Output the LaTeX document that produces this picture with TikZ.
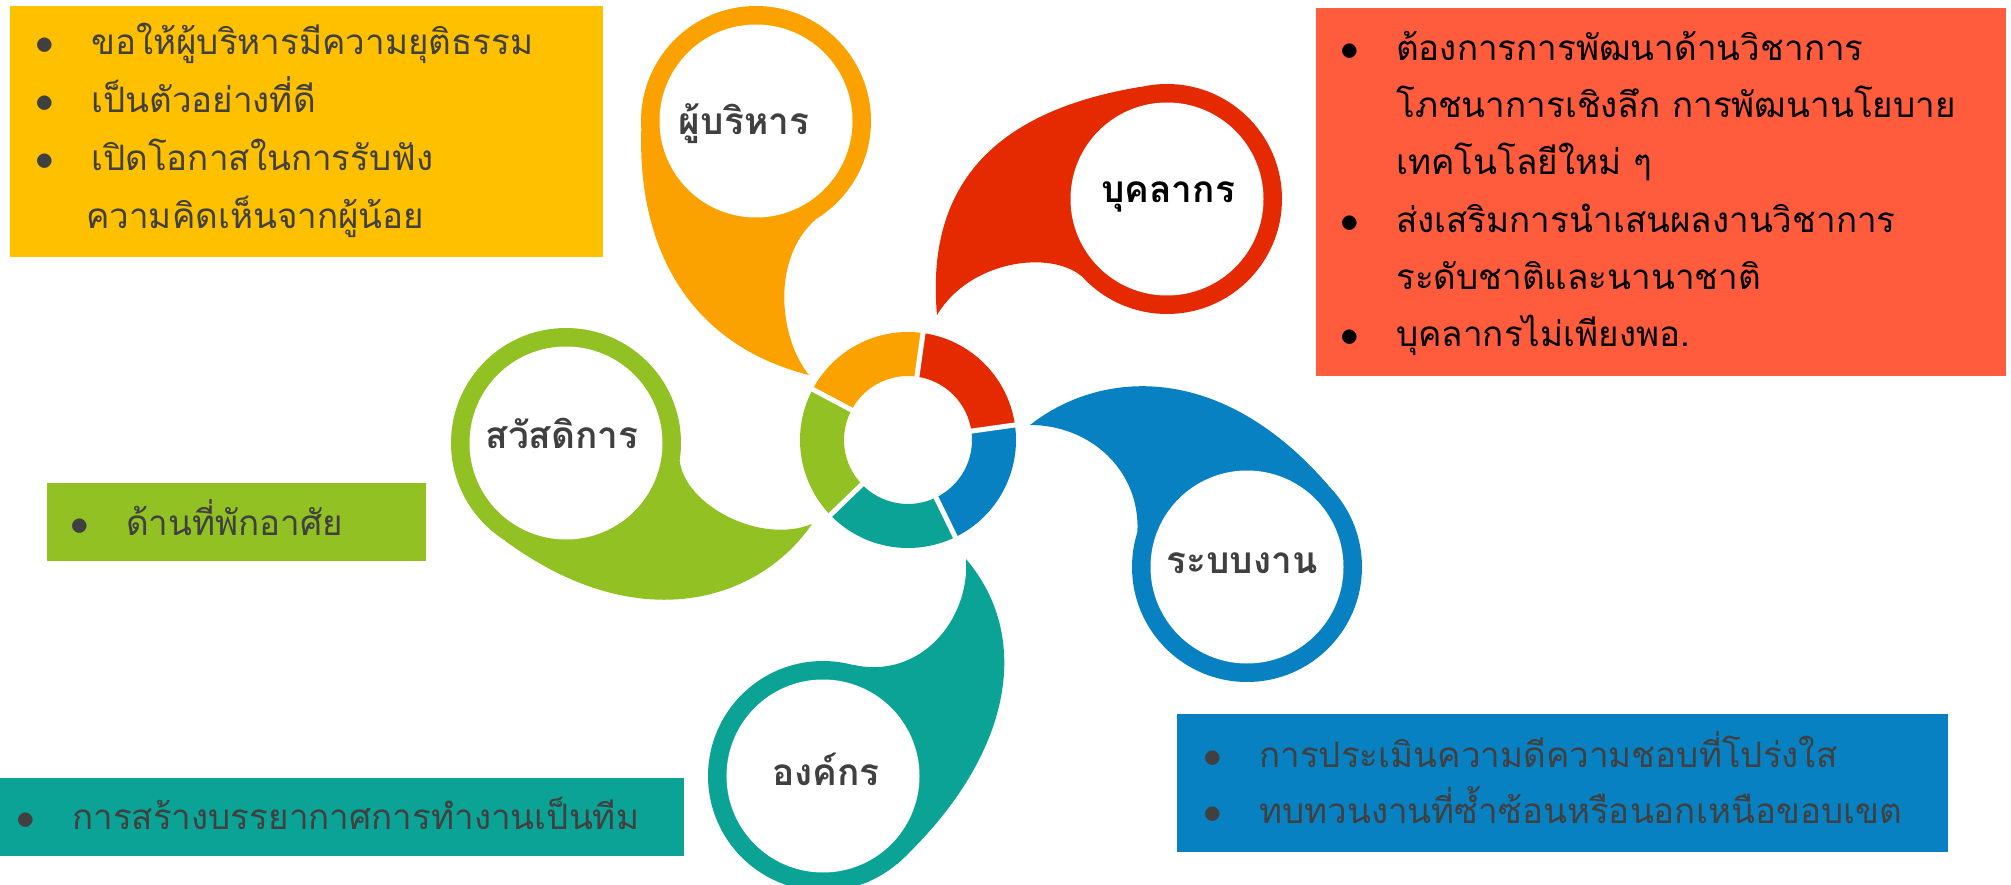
\documentclass[tikz,border=0pt]{standalone}
\usepackage{fontspec}
\newfontfamily\thaifont[Script=Thai]{Loma}
\usetikzlibrary{calc}
\definecolor{goldbox}{HTML}{FFC000}
\definecolor{tomatobox}{HTML}{FF5B3D}
\definecolor{orangeb}{HTML}{FCA200}
\definecolor{redb}{HTML}{E52900}
\definecolor{blueb}{HTML}{0881C3}
\definecolor{tealb}{HTML}{0BA396}
\definecolor{greenb}{HTML}{92C123}
\definecolor{inkgray}{HTML}{404040}
\newcommand{\listdot}{\makebox[56pt][l]{\scalebox{1.5}{$\bullet$}}}

\begin{document}
\begin{tikzpicture}[x=1pt,y=-1pt]
    % Setup the styles
    \tikzset{list box/.style={anchor=north west, inner sep=0pt},
             list text/.style={anchor=base west, inner sep=0pt, align=left,
                               text=inkgray, font=\thaifont\fontsize{35}{57}\selectfont},
             bubble text/.style={anchor=base, inner sep=0pt,
                                 text=inkgray, font=\thaifont\bfseries\fontsize{37}{37}\selectfont},
             rim/.style={circle, minimum size=230, inner sep=0pt},
             hole/.style={circle, fill=white, minimum size=193, inner sep=0pt}}
    \useasboundingbox (0,0) rectangle (2011,885);

    % Draw the list boxes (text nodes sit on their last baseline)
    \node[list box, fill=goldbox, minimum width=593, minimum height=251] (mgrbox) at (10,6) {};
    \node[list box, fill=tomatobox, minimum width=690, minimum height=368] (staffbox) at (1316,8) {};
    \node[list box, fill=greenb, minimum width=379, minimum height=78] (welfbox) at (47,483) {};
    \node[list box, fill=tealb, minimum width=684, minimum height=78] (orgbox) at (0,778) {};
    \node[list box, fill=blueb, minimum width=771, minimum height=138] (sysbox) at (1177,714) {};

    \node[list text, font=\thaifont\fontsize{35}{58}\selectfont] (mgrlist) at (35,229)
        {\listdot ขอให้ผู้บริหารมีความยุติธรรม\\
        \listdot เป็นตัวอย่างที่ดี\\
        \listdot เปิดโอกาสในการรับฟัง\\
        \hspace*{51pt}ความคิดเห็นจากผู้น้อย};
    \node[list text, text=black, font=\thaifont\fontsize{35}{57.4}\selectfont] (stafflist) at (1340,347)
        {\listdot ต้องการการพัฒนาด้านวิชาการ\\
        \hspace*{56pt}โภชนาการเชิงลึก การพัฒนานโยบาย\\
        \hspace*{56pt}เทคโนโลยีใหม่ ๆ\\
        \listdot ส่งเสริมการนำเสนผลงานวิชาการ\\
        \hspace*{56pt}ระดับชาติและนานาชาติ\\
        \listdot บุคลากรไม่เพียงพอ.};
    \node[list text] (welflist) at (70,535) {\listdot ด้านที่พักอาศัย};
    \node[list text] (orglist) at (16,829) {\listdot การสร้างบรรยากาศการทำงานเป็นทีม};
    \node[list text, font=\thaifont\fontsize{35}{56}\selectfont] (syslist) at (1203,823)
        {\listdot การประเมินความดีความชอบที่โปร่งใส\\
        \listdot ทบทวนงานที่ซ้ำซ้อนหรือนอกเหนือขอบเขต};

    % Draw the bubbles with their tails
    \node[rim, fill=orangeb] (mgr) at (756,121) {};
    \fill[orangeb] (mgr.185) .. controls (638,250) and (690,345) .. (809,375)
        .. controls (780,340) and (770,260) .. (mgr.301) -- (mgr.center) -- cycle;
    \node[hole] at (mgr) {};
    \node[bubble text] (mgrlabel) at (744,135) {ผู้บริหาร};

    \node[rim, fill=redb] (staff) at (1167,199) {};
    \fill[redb] (staff.103) .. controls (1000,110) and (925,180) .. (937,315)
        .. controls (970,260) and (1050,250) .. (staff.222) -- (staff.center) -- cycle;
    \node[hole] at (staff) {};
    \node[bubble text, text=black] (stafflabel) at (1168,203) {บุคลากร};

    \node[rim, fill=blueb] (sys) at (1247,567) {};
    \fill[blueb] (sys.45) .. controls (1220,360) and (1100,370) .. (1030,425)
        .. controls (1090,425) and (1140,470) .. (sys.162) -- (sys.center) -- cycle;
    \node[hole] at (sys) {};
    \node[bubble text] (syslabel) at (1242,573) {ระบบงาน};

    \node[rim, fill=tealb] (org) at (823,776) {};
    \fill[tealb] (org.75) .. controls (920,680) and (970,620) .. (966,559)
        .. controls (1035,640) and (1010,760) .. (org.310) -- (org.center) -- cycle;
    \node[hole] at (org) {};
    \node[bubble text] (orglabel) at (826,785) {องค์กร};

    \node[rim, fill=greenb] (welf) at (566,443) {};
    \fill[greenb] (welf.351) .. controls (685,505) and (760,545) .. (812,524)
        .. controls (760,600) and (640,640) .. (welf.238) -- (welf.center) -- cycle;
    \node[hole] at (welf) {};
    \node[bubble text] (welflabel) at (562,448) {สวัสดิการ};

    % Draw the hub ring
    \coordinate (hub) at (908,440);
    \foreach \a/\b/\c in {8/82/redb, 82/152/orangeb, 152/224/greenb, 224/296/tealb, 296/368/blueb}
        \fill[\c] ($(hub)+(-\a:108)$) arc[start angle=-\a, end angle=-\b, radius=108]
            -- ($(hub)+(-\b:64)$) arc[start angle=-\b, end angle=-\a, radius=64] -- cycle;
    \foreach \a in {8,82,152,224,296}
        \draw[white, line width=5] ($(hub)+(-\a:58)$) -- ($(hub)+(-\a:114)$);
\end{tikzpicture}
\end{document}
